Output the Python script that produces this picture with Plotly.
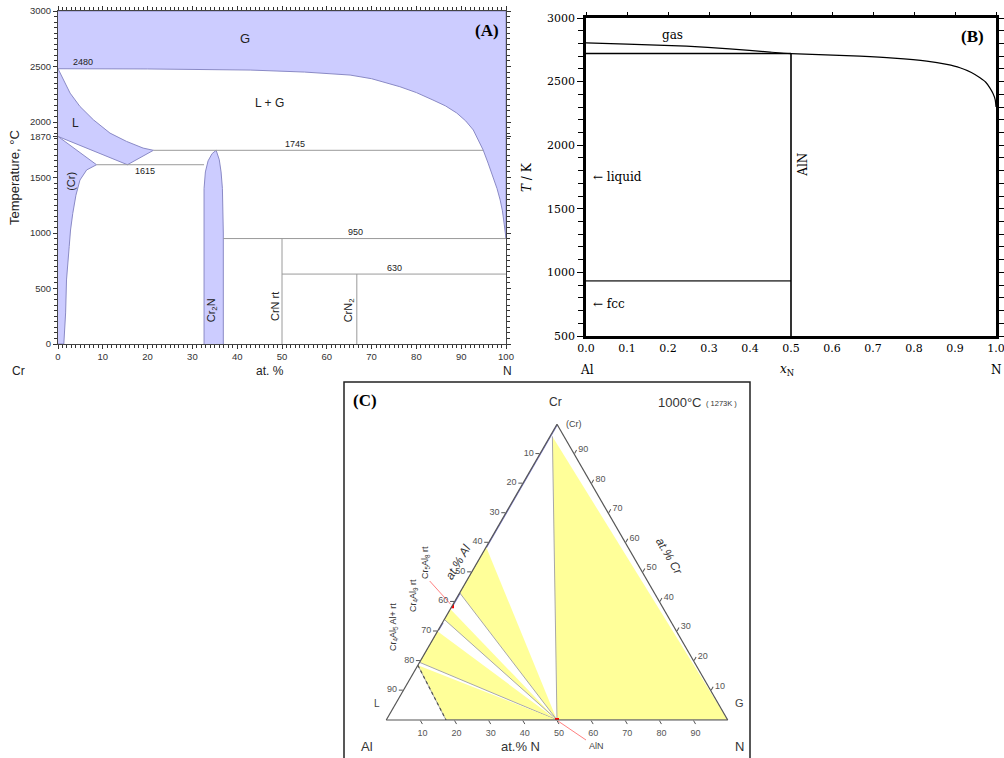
import plotly.graph_objects as go

FIG_W, FIG_H = 1004, 758


def px(x):
    """Horizontal page position -> paper fraction."""
    return x / FIG_W


def py(y):
    """Vertical page position (from top) -> paper fraction."""
    return 1 - y / FIG_H


# ---------------------------------------------------------------
# (A) Cr–N binary phase diagram  (x: at.% N, y: temperature / °C)
# ---------------------------------------------------------------
liquidus_x = [0, 1.2, 2.7, 4.9, 7.9, 11.6, 15.3, 19.0, 21.3]
liquidus_T = [2480, 2380, 2260, 2140, 2020, 1900, 1825, 1765, 1745]
liquid_low_x = [15.5, 0]
liquid_low_T = [1615, 1870]

solvus_x = [1.3, 1.7, 1.9, 2.5, 2.8, 3.3, 4.0, 4.9, 6.4, 8.6]
solvus_T = [0, 280, 577, 877, 1027, 1177, 1340, 1477, 1568, 1615]

cr2n_x = [32.6, 32.6, 32.6, 32.9, 33.5, 34.4, 35.3, 36.0, 36.4, 36.7, 36.9, 36.9]
cr2n_T = [0, 1000, 1400, 1550, 1650, 1715, 1745, 1660, 1550, 1400, 1000, 0]

gas_x = [0, 20, 42.9, 55, 65.2, 70, 76.3, 80, 83.7, 86.5, 89.0, 91.0,
         92.7, 93.8, 94.9, 96.0, 97.1, 98.0, 98.7, 99.2, 99.6, 100]
gas_T = [2480, 2478, 2468, 2450, 2423, 2390, 2318, 2265, 2198, 2145, 2081, 2010,
         1928, 1840, 1748, 1630, 1505, 1400, 1297, 1200, 1080, 950]

iso_T = [1615, 1745, 950, 630]
iso_x0 = [8.6, 21.3, 36.9, 50]
iso_x1 = [32.6, 94.9, 100, 100]

compound_x = [50, 66.7]          # CrN rt, CrN2
compound_top = [950, 630]

a_yticks = [0, 500, 1000, 1500, 1870, 2000, 2500, 3000]

# ---------------------------------------------------------------
# (B) Al–N binary (x: mole fraction N, y: T / K)
# ---------------------------------------------------------------
b_gas_x = [0, 0.1, 0.245, 0.35, 0.449, 0.5, 0.668, 0.75, 0.831, 0.88, 0.912,
           0.94, 0.961, 0.975, 0.985, 0.993, 0.998, 1.0]
b_gas_T = [2805, 2795, 2779, 2758, 2732, 2720, 2700, 2685, 2661, 2635, 2609,
           2572, 2530, 2495, 2451, 2405, 2359, 2300]
b_liq_T = 2720      # AlN + liquid / gas boundary
b_fcc_T = 933       # Al melting
b_aln_x = 0.5
b_xticks = [0.0, 0.1, 0.2, 0.3, 0.4, 0.5, 0.6, 0.7, 0.8, 0.9, 1.0]

# ---------------------------------------------------------------
# (C) Al–Cr–N isothermal section at 1000 °C  (at.% Al, Cr, N)
# ---------------------------------------------------------------
tri_big = dict(al=[3.4, 50, 0], cr=[95.9, 0, 0], n=[0.7, 50, 100])
tri_1 = dict(al=[41.5, 57, 50], cr=[58.5, 43, 0], n=[0, 0, 50])
tri_2 = dict(al=[62.5, 66, 50], cr=[37.5, 34, 0], n=[0, 0, 50])
tri_3 = dict(al=[70, 80.5, 50], cr=[30, 19.5, 0], n=[0, 0, 50])
tri_4 = dict(al=[81.5, 82.5, 50], cr=[18.5, 0, 0], n=[0, 17.5, 50])
liquid_edge = dict(al=[81.5, 82.5], cr=[18.5, 0], n=[0, 17.5])
single_phase = [  # homogeneity ranges on the Cr–Al edge, at.% Al
    (0, 41.5),     # (Cr)
    (57, 61.5),    # Cr5Al8
    (67, 69.5),    # Cr4Al9
]
cr5al8_point = dict(al=[61.5], cr=[38.5], n=[0])
aln_point = dict(al=[50], cr=[0], n=[50])
tern_ticks = [10, 20, 30, 40, 50, 60, 70, 80, 90]

# ---------------------------------------------------------------
BLUE_FILL = "#ccccff"
BLUE_EDGE = "#8a8ac6"
ISO_GREY = "#9a9a9a"
YELLOW = "#ffff99"
SANS = "Liberation Sans, Arial, sans-serif"
SERIF = "DejaVu Serif"
TIMES = "Liberation Serif, Times New Roman, serif"

fig = go.Figure()


def region(x, y, **kw):
    fig.add_trace(go.Scatter(
        x=x, y=y, mode="lines", fill="toself", fillcolor=BLUE_FILL,
        line=dict(color=BLUE_EDGE, width=1), hoverinfo="skip", **kw))


# --- panel A regions
region(gas_x + [100, 0], gas_T + [3000, 3000], xaxis="x", yaxis="y")
region(liquidus_x + liquid_low_x, liquidus_T + liquid_low_T, xaxis="x", yaxis="y")
region([0] + solvus_x + [0], [0] + solvus_T + [1870], xaxis="x", yaxis="y")
region(cr2n_x, cr2n_T, xaxis="x", yaxis="y")

for T, x0, x1 in zip(iso_T, iso_x0, iso_x1):
    fig.add_trace(go.Scatter(x=[x0, x1], y=[T, T], mode="lines",
                             line=dict(color=ISO_GREY, width=1),
                             hoverinfo="skip", xaxis="x", yaxis="y"))
for xc, top in zip(compound_x, compound_top):
    fig.add_trace(go.Scatter(x=[xc, xc], y=[0, top], mode="lines",
                             line=dict(color=ISO_GREY, width=1),
                             hoverinfo="skip", xaxis="x", yaxis="y"))

# --- panel B lines
fig.add_trace(go.Scatter(x=b_gas_x, y=b_gas_T, mode="lines",
                         line=dict(color="black", width=1.2, shape="spline", smoothing=0.6),
                         xaxis="x2", yaxis="y2", hoverinfo="skip"))
fig.add_trace(go.Scatter(x=[0, b_aln_x], y=[b_liq_T, b_liq_T], mode="lines",
                         line=dict(color="black", width=1.5),
                         xaxis="x2", yaxis="y2", hoverinfo="skip"))
fig.add_trace(go.Scatter(x=[0, b_aln_x], y=[b_fcc_T, b_fcc_T], mode="lines",
                         line=dict(color="#555555", width=1.6),
                         xaxis="x2", yaxis="y2", hoverinfo="skip"))
fig.add_trace(go.Scatter(x=[b_aln_x, b_aln_x], y=[500, b_liq_T], mode="lines",
                         line=dict(color="black", width=1.6),
                         xaxis="x2", yaxis="y2", hoverinfo="skip"))
# carrier for the top tick row of panel B
fig.add_trace(go.Scatter(x=[], y=[], xaxis="x3", yaxis="y2", showlegend=False))

# --- panel C (ternary: a = Cr, b = Al, c = N)
for tri in (tri_big, tri_1, tri_2, tri_3, tri_4):
    fig.add_trace(go.Scatterternary(
        a=tri["cr"], b=tri["al"], c=tri["n"], mode="lines", fill="toself",
        fillcolor=YELLOW, line=dict(color="#a8a8a8", width=1),
        hoverinfo="skip"))
fig.add_trace(go.Scatterternary(
    a=liquid_edge["cr"], b=liquid_edge["al"], c=liquid_edge["n"], mode="lines",
    line=dict(color="#555555", width=1.2, dash="dot"), hoverinfo="skip"))
for al0, al1 in single_phase:
    fig.add_trace(go.Scatterternary(
        a=[100 - al0, 100 - al1], b=[al0, al1], c=[0, 0], mode="lines",
        line=dict(color="#7878c8", width=2.2), hoverinfo="skip"))
for pt in (cr5al8_point, aln_point):
    fig.add_trace(go.Scatterternary(
        a=pt["cr"], b=pt["al"], c=pt["n"], mode="markers",
        marker=dict(color="#ff0000", size=4, symbol="square"), hoverinfo="skip"))

fig.update_traces(showlegend=False)

# ---------------------------------------------------------------
tick_font_a = dict(family=SANS, size=9.5, color="#333333")
tick_font_b = dict(family=SERIF, size=11, color="black")

tern_axis = dict(
    tickmode="array", tickvals=tern_ticks,
    ticktext=[str(100 - v) for v in tern_ticks],
    ticks="outside", ticklen=4, tickcolor="#555555",
    tickfont=dict(family=SANS, size=9, color="#555555"),
    showline=True, linecolor="#555555", linewidth=1.2,
    showgrid=False, title=dict(text=""), min=0,
)

fig.update_layout(
    template="none",
    width=FIG_W, height=FIG_H,
    margin=dict(l=0, r=0, t=0, b=0),
    paper_bgcolor="white", plot_bgcolor="white",
    showlegend=False,
    xaxis=dict(
        domain=[px(58), px(506)], anchor="y", range=[0, 100],
        tickmode="linear", tick0=0, dtick=10,
        ticks="outside", ticklen=4, tickcolor="#333", tickwidth=1,
        minor=dict(tickmode="linear", tick0=0, dtick=1, ticklen=3,
                   ticks="outside", tickcolor="#333", tickwidth=1),
        showline=True, linecolor="#444", linewidth=1, mirror="ticks",
        showgrid=False, zeroline=False, tickfont=tick_font_a,
    ),
    yaxis=dict(
        domain=[py(344), py(11)], anchor="x", range=[0, 3000],
        tickmode="array", tickvals=a_yticks,
        ticks="outside", ticklen=4, tickcolor="#333", tickwidth=1,
        minor=dict(tickmode="linear", tick0=0, dtick=50, ticklen=3,
                   ticks="outside", tickcolor="#333", tickwidth=1),
        showline=True, linecolor="#444", linewidth=1, mirror="ticks",
        showgrid=False, zeroline=False, tickfont=tick_font_a,
    ),
    xaxis2=dict(
        domain=[px(586), px(996)], anchor="y2", range=[0, 1],
        tickmode="array", tickvals=b_xticks,
        ticktext=[f"{v:.1f}" for v in b_xticks],
        ticklabeloverflow="allow",
        ticks="", showline=True, linecolor="black", linewidth=2.6,
        mirror=True, showgrid=False, zeroline=False, tickfont=tick_font_b,
    ),
    xaxis3=dict(
        overlaying="x2", anchor="y2", side="top", range=[0, 1],
        tickmode="array", tickvals=b_xticks, ticks="outside", ticklen=5,
        tickcolor="black", showticklabels=False, showline=False,
        showgrid=False, zeroline=False,
    ),
    yaxis2=dict(
        domain=[py(336), py(18)], anchor="x2", range=[500, 3000],
        tickmode="linear", tick0=500, dtick=500,
        ticks="outside", ticklen=6, tickcolor="black",
        minor=dict(tickmode="linear", tick0=500, dtick=100, ticklen=5,
                   ticks="outside", tickcolor="black"),
        showline=True, linecolor="black", linewidth=2.6, mirror="ticks",
        showgrid=False, zeroline=False, tickfont=tick_font_b,
    ),
    ternary=dict(
        domain=dict(x=[px(385.7), px(728.3)], y=[py(720), py(424.3)]),
        sum=100, bgcolor="white",
        aaxis=tern_axis, baxis=tern_axis, caxis=tern_axis,
    ),
)

# panel C frame
fig.add_shape(type="rect", xref="paper", yref="paper",
              x0=px(344), x1=px(750), y0=py(768), y1=py(382),
              line=dict(color="#222222", width=1.5), fillcolor="rgba(0,0,0,0)")
# leader lines for Cr5Al8 and AlN labels
fig.add_shape(type="line", xref="paper", yref="paper",
              x0=px(450.7), y0=py(604.3), x1=px(429.7), y1=py(581),
              line=dict(color="#ff6060", width=0.8))
fig.add_shape(type="line", xref="paper", yref="paper",
              x0=px(558), y0=py(721), x1=px(586), y1=py(740),
              line=dict(color="#ff6060", width=0.8))

ann = []


def label(text, x, y, ref="paper", size=11, font=SANS, color="#222222",
          angle=0, xanchor="center", yanchor="middle", **kw):
    xr, yr = ("paper", "paper") if ref == "paper" else ref
    ann.append(dict(text=text, x=x, y=y, xref=xr, yref=yr, showarrow=False,
                    font=dict(family=font, size=size, color=color),
                    textangle=angle, xanchor=xanchor, yanchor=yanchor, **kw))


A = ("x", "y")
B = ("x2", "y2")

# panel A text
label("G", 41.7, 2750, A, size=13)
label("L + G", 47.3, 2170, A, size=12)
label("L", 3.8, 1990, A, size=12)
label("(Cr)", 2.9, 1470, A, size=11, angle=-90)
label("2480", 3.0, 2540, A, size=9, xanchor="left")
label("1615", 19.4, 1555, A, size=9)
label("1745", 52.9, 1805, A, size=9)
label("950", 66.3, 1005, A, size=9)
label("630", 75.2, 685, A, size=9)
label("Cr<sub>2</sub>N", 34.4, 305, A, size=11, angle=-90)
label("CrN rt", 48.6, 340, A, size=11, angle=-90)
label("CrN<sub>2</sub>", 65.0, 305, A, size=11, angle=-90)
label("<b>(A)</b>", px(487), py(30), size=17, font=TIMES, color="black")
label("Temperature, °C", px(15), py(178), size=13, angle=-90)
label("Cr", px(18), py(371), size=12)
label("at. %", px(270), py(371), size=12)
label("N", px(507), py(371), size=12)

# panel B text
label("gas", 0.21, 2870, B, size=12, font=SERIF, color="black")
label("← liquid", 0.012, 1750, B, size=12, font=SERIF, color="black", xanchor="left")
label("← fcc", 0.012, 750, B, size=12, font=SERIF, color="black", xanchor="left")
label("AlN", 0.529, 1846, B, size=12, font=SERIF, color="black", angle=-90)
label("<b>(B)</b>", px(972), py(37), size=17, font=TIMES, color="black")
label("<i>T</i> / K", px(527), py(177), size=12, font=SERIF, color="black", angle=-90)
label("<i>x</i><sub>N</sub>", px(787), py(370), size=12, font=SERIF, color="black")
label("Al", px(587), py(370), size=12, font=SERIF, color="black")
label("N", px(996), py(370), size=12, font=SERIF, color="black")

# panel C text
label("<b>(C)</b>", px(365), py(400), size=17, font=TIMES, color="black")
label("Cr", px(555), py(402), size=12, color="#333333")
label("1000°C", px(680), py(402), size=13, color="#333333")
label("( 1273K )", px(721), py(403), size=7.5, color="#333333")
label("(Cr)", px(574), py(424), size=9, color="#444444")
label("L", px(377), py(703), size=10, color="#444444")
label("G", px(739), py(703), size=11, color="#444444")
label("Al", px(367), py(746), size=13, color="#333333")
label("N", px(739), py(746), size=13, color="#333333")
label("at.% N", px(520), py(746), size=13, color="#333333")
label("AlN", px(596), py(746), size=9, color="#444444")
label("<i>at.% Al</i>", px(458), py(562), size=12, color="#333333", angle=-60)
label("<i>at.% Cr</i>", px(669), py(556), size=12, color="#333333", angle=60)
label("Cr<sub>5</sub>Al<sub>8</sub> rt", px(425), py(563), size=9, color="#333333", angle=-90)
label("Cr<sub>4</sub>Al<sub>9</sub> rt", px(413), py(596), size=9, color="#333333", angle=-90)
label("Cr<sub>4</sub>Al<sub>5</sub> Al+ rt", px(393), py(627), size=9, color="#333333", angle=-90)

fig.update_layout(annotations=ann)

fig.write_html("out.html")
